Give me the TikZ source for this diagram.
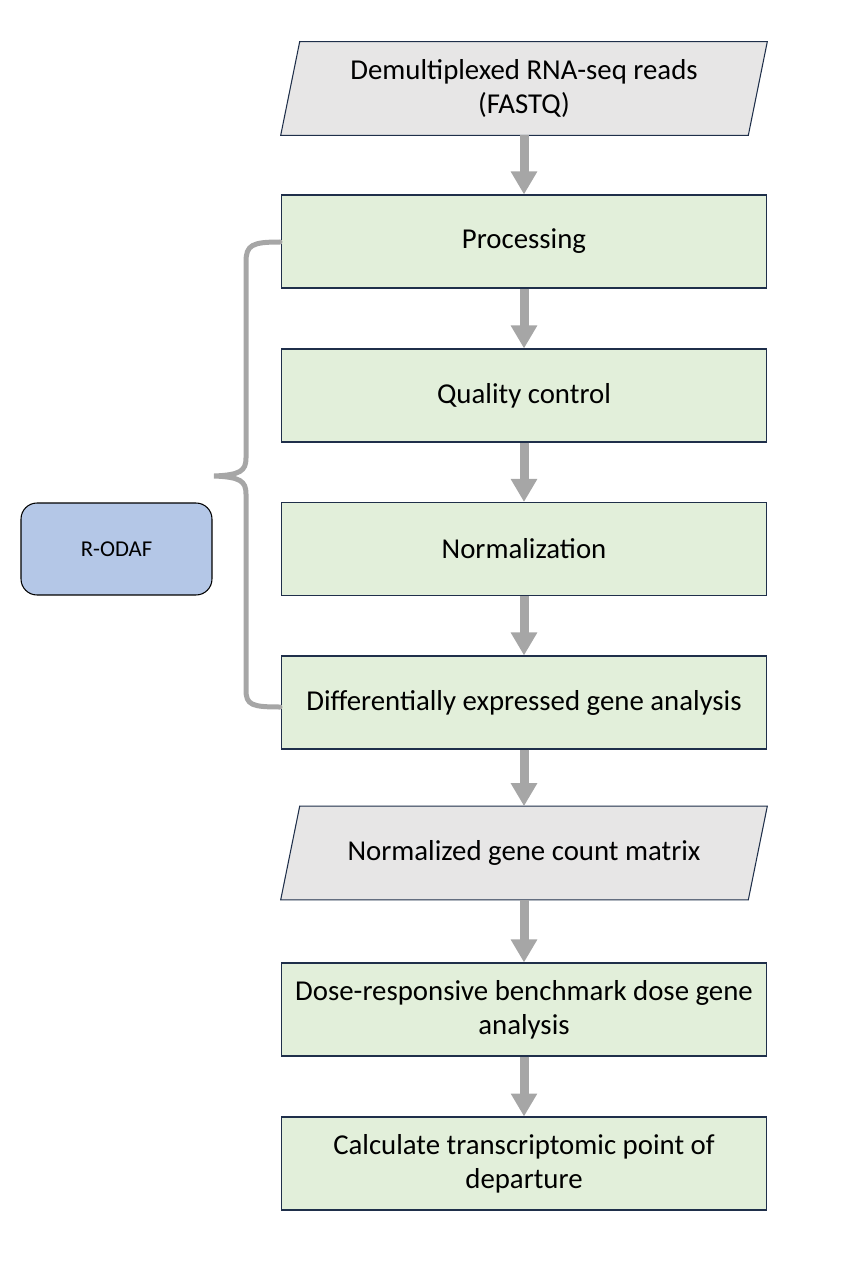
\documentclass[tikz,border=0pt]{standalone}
\usepackage{fontspec}
\setmainfont{Carlito}
\usetikzlibrary{calc,backgrounds,arrows.meta}
\definecolor{stepgreen}{HTML}{E2EFDA}
\definecolor{datagray}{HTML}{E7E6E6}
\definecolor{odafblue}{HTML}{B4C7E7}
\definecolor{edgenavy}{HTML}{1F2F4A}
\definecolor{flowgray}{HTML}{A6A6A6}
\tikzset{
  stepbox/.style={rectangle,draw=edgenavy,fill=stepgreen,line width=0.6pt,
    minimum width=9.72cm,minimum height=1.86cm,align=center,inner sep=0pt},
  databox/.style={rectangle,minimum width=9.72cm,minimum height=1.86cm,
    align=center,inner sep=0pt},
  dataface/.style={draw=edgenavy,fill=datagray,line width=0.6pt},
  toolbox/.style={rectangle,rounded corners=0.32cm,draw=black,fill=odafblue,line width=0.6pt,
    minimum width=3.82cm,minimum height=1.84cm,font=\fontsize{12.9}{15}\selectfont},
  flow/.style={draw=flowgray,line width=0.18cm,
    -{Triangle[length=0.46cm,width=0.5cm]},shorten >=0pt},
  brace/.style={draw=flowgray,line width=0.1cm,line cap=round}
}
\begin{document}
\begin{tikzpicture}[x=0.02cm,y=-0.02cm,font=\fontsize{16.4}{19.4}\selectfont]
\useasboundingbox (0,0) rectangle (864,1280);
% input and outputs
\node (reads) at (524,88.5) [databox] {Demultiplexed RNA-seq reads\\(FASTQ)};
\node (matrix) at (524,853) [databox] {Normalized gene count matrix};
\begin{scope}[on background layer]
\foreach \n in {reads,matrix}
  \draw[dataface] ($(\n.north west)+(19,0)$) -- (\n.north east)
    -- ($(\n.south east)+(-19,0)$) -- (\n.south west) -- cycle;
\end{scope}
% R-ODAF steps
\node (proc) at (524,241.5) [stepbox] {Processing};
\node (qc) at (524,395.5) [stepbox] {Quality control};
\node (norm) at (524,549) [stepbox] {Normalization};
\node (deg) at (524,702.5) [stepbox] {Differentially expressed gene analysis};
% downstream
\node (bmd) at (524,1009.5) [stepbox] {Dose-responsive benchmark dose gene\\analysis};
\node (pod) at (524,1163.5) [stepbox] {Calculate transcriptomic point of\\departure};
\node (odaf) at (116.5,549) [toolbox] {R-ODAF};
% arrows
\draw[flow] (reads) -- (proc);
\draw[flow] (proc) -- (qc);
\draw[flow] (qc) -- (norm);
\draw[flow] (norm) -- (deg);
\draw[flow] (deg) -- (matrix);
\draw[flow] (matrix) -- (bmd);
\draw[flow] (bmd) -- (pod);
% brace
\draw[brace] (280,242) .. controls (252,242) and (246,245) .. (246,262) -- (246,458)
  .. controls (246,471) and (240,475) .. (214,476)
  .. controls (240,477) and (246,481) .. (246,494) -- (246,690)
  .. controls (246,705) and (252,707) .. (280,707);
\end{tikzpicture}
\end{document}
